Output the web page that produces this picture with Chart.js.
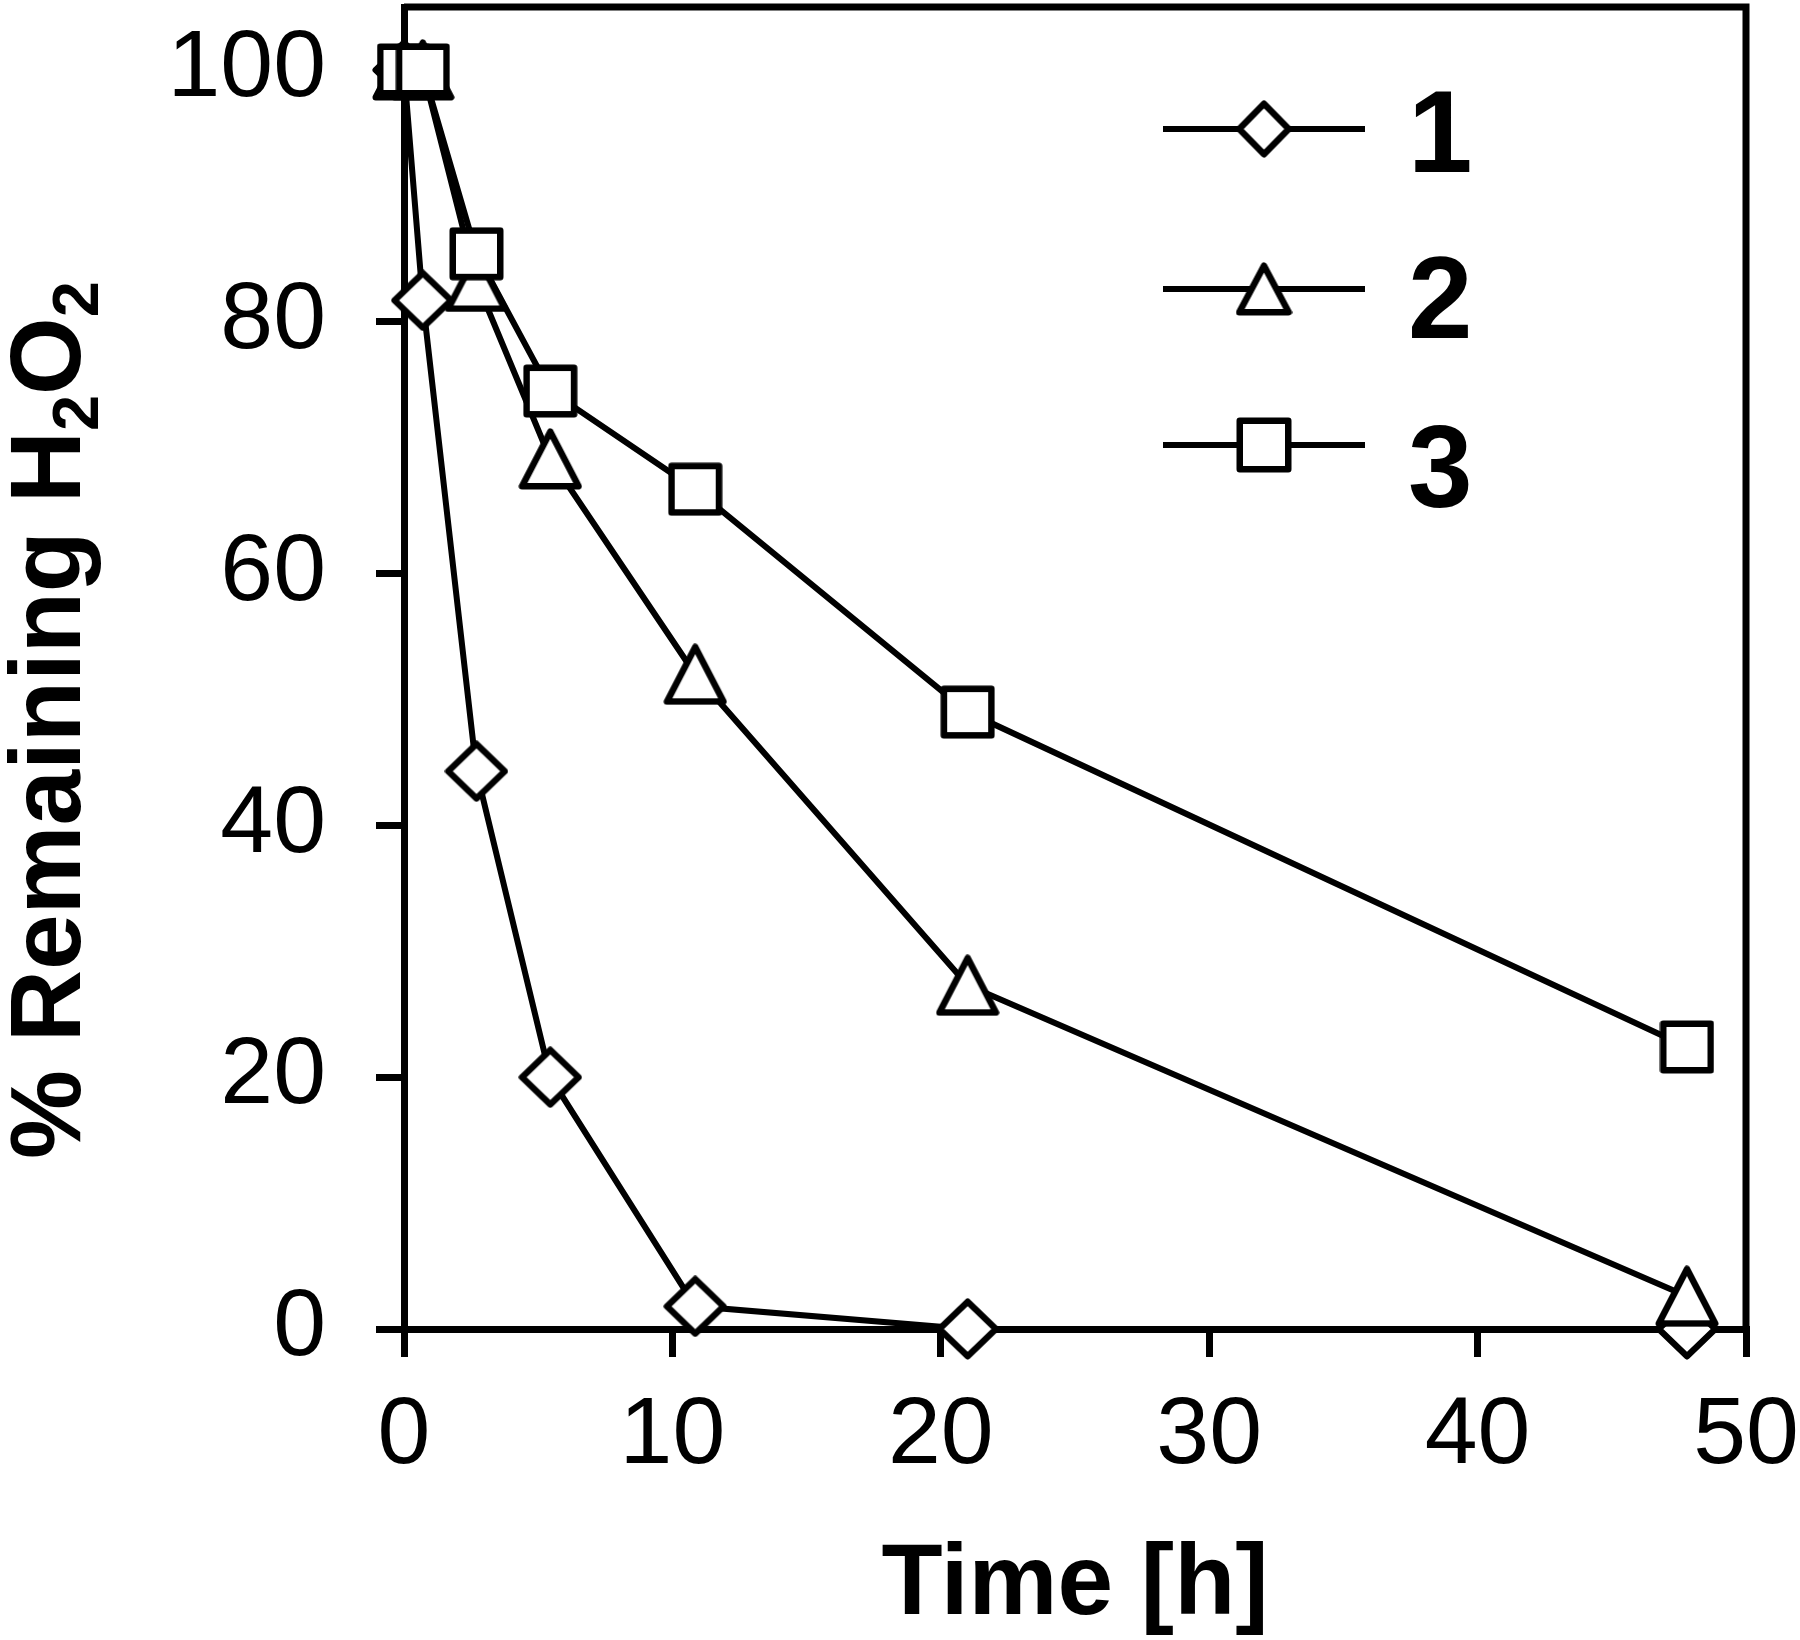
<!DOCTYPE html>
<html>
<head>
<meta charset="utf-8">
<style>
    html, body { margin: 0; padding: 0; background: #fff; }
    #chart { display: block; }
</style>
</head>
<body>
<canvas id="chart" width="1800" height="1640" style="width: 1800px; height: 1640px;"></canvas>
<script src="https://cdn.jsdelivr.net/npm/chart.js"></script>
<script>
    // values
    const times = [0, 0.7, 2.7, 5.45, 10.85, 21, 47.8];
    const series1 = [100, 81.7, 44.3, 20.0, 1.8, 0, 0];
    const series2 = [100, 100, 83.2, 69.1, 52.0, 27.3, 2.6];
    const series3 = [100, 100, 85.4, 74.5, 66.7, 49.0, 22.4];
    const seriesNames = ["1", "2", "3"];
    const xTicks = [0, 10, 20, 30, 40, 50];
    const yTicks = [0, 20, 40, 60, 80, 100];

    const FONT = "'Liberation Sans', Arial, sans-serif";

    // excel-like open markers, drawn once on small canvases
    function makeMarker(shape, w, h, lw) {
        const c = document.createElement("canvas");
        c.width = w;
        c.height = h;
        const g = c.getContext("2d");
        const p = lw / 2 + 0.5;
        g.beginPath();
        if (shape === "diamond") {
            g.moveTo(w / 2, p);
            g.lineTo(w - p, h / 2);
            g.lineTo(w / 2, h - p);
            g.lineTo(p, h / 2);
        } else if (shape === "triangle") {
            g.moveTo(w / 2, p);
            g.lineTo(w - p, h - p);
            g.lineTo(p, h - p);
        } else {
            g.rect(p, p, w - 2 * p, h - 2 * p);
        }
        g.closePath();
        g.fillStyle = "#fff";
        g.fill();
        g.lineWidth = lw;
        g.lineJoin = "round";
        g.strokeStyle = "#000";
        g.stroke();
        return c;
    }

    const markers = [
        makeMarker("diamond", 64, 62, 6.5),
        makeMarker("triangle", 64, 62, 6.5),
        makeMarker("square", 55, 54, 6.5)
    ];
    const legendMarkers = [
        makeMarker("diamond", 57, 58, 6.5),
        makeMarker("triangle", 57, 54, 6.5),
        makeMarker("square", 56, 56, 6.5)
    ];

    function toPoints(values) {
        return times.map((t, i) => ({ x: t, y: values[i] }));
    }

    function noPadding(scale) {
        scale.paddingTop = 0;
        scale.paddingBottom = 0;
        scale.paddingLeft = 0;
        scale.paddingRight = 0;
    }

    const frame = {
        id: "frame",
        afterDatasetsDraw(chart) {
            const { ctx, chartArea: a } = chart;
            ctx.save();
            ctx.strokeStyle = "#000";
            ctx.lineWidth = 7;
            ctx.beginPath();
            ctx.moveTo(a.left, a.top);
            ctx.lineTo(a.right, a.top);
            ctx.lineTo(a.right, a.bottom);
            ctx.stroke();
            ctx.restore();
        }
    };

    // rotated y title with real subscripts
    const yTitle = {
        id: "yTitle",
        afterDraw(chart) {
            const ctx = chart.ctx;
            const big = "bold 100px " + FONT;
            const small = "bold 65px " + FONT;
            const parts = [
                { t: "% Remaining H", f: big, dy: 0 },
                { t: "2", f: small, dy: 18 },
                { t: "O", f: big, dy: 0 },
                { t: "2", f: small, dy: 18 }
            ];
            ctx.save();
            let total = 0;
            parts.forEach(p => {
                ctx.font = p.f;
                p.w = ctx.measureText(p.t).width;
                total += p.w;
            });
            ctx.translate(80, 720);
            ctx.rotate(-Math.PI / 2);
            ctx.fillStyle = "#000";
            ctx.textBaseline = "alphabetic";
            ctx.textAlign = "left";
            let x = -total / 2;
            parts.forEach(p => {
                ctx.font = p.f;
                ctx.fillText(p.t, x, p.dy);
                x += p.w;
            });
            ctx.restore();
        }
    };

    const legendBox = {
        id: "legendBox",
        afterDraw(chart) {
            const ctx = chart.ctx;
            const rows = [129, 289, 445];
            const labelBase = [172, 338, 507];
            ctx.save();
            ctx.strokeStyle = "#000";
            ctx.lineWidth = 6;
            ctx.fillStyle = "#000";
            ctx.font = "bold 116px " + FONT;
            ctx.textBaseline = "alphabetic";
            ctx.textAlign = "left";
            seriesNames.forEach((name, i) => {
                const y = rows[i];
                ctx.beginPath();
                ctx.moveTo(1163, y);
                ctx.lineTo(1365, y);
                ctx.stroke();
                const m = legendMarkers[i];
                ctx.drawImage(m, 1264 - m.width / 2, y - m.height / 2);
                ctx.fillText(name, 1408, labelBase[i]);
            });
            ctx.restore();
        }
    };

    const allSeries = [series1, series2, series3];
    const datasets = allSeries.map((values, i) => ({
        label: seriesNames[i],
        data: toPoints(values),
        showLine: true,
        borderColor: "#000",
        borderWidth: 6,
        backgroundColor: "#fff",
        pointStyle: markers[i],
        pointRadius: 30,
        pointHoverRadius: 30,
        clip: false,
        order: 3 - i,
        tension: 0
    }));

    new Chart(document.getElementById("chart").getContext("2d"), {
        type: "scatter",
        data: { datasets: datasets },
        options: {
            responsive: false,
            devicePixelRatio: 1,
            animation: false,
            events: [],
            layout: {
                autoPadding: false,
                padding: { top: 7, right: 54, bottom: 0, left: 0 }
            },
            plugins: {
                legend: { display: false },
                tooltip: { enabled: false }
            },
            scales: {
                x: {
                    type: "linear",
                    min: 0,
                    max: 50,
                    afterBuildTicks: (scale) => { scale.ticks = xTicks.map(v => ({ value: v })); },
                    afterFit: (scale) => {
                        scale.height = 311;
                        noPadding(scale);
                    },
                    ticks: {
                        color: "#000",
                        font: { family: FONT, size: 95 },
                        padding: 23,
                        maxRotation: 0
                    },
                    grid: {
                        drawOnChartArea: false,
                        color: "#000",
                        lineWidth: 7,
                        tickLength: 28
                    },
                    border: { color: "#000", width: 7 },
                    title: {
                        display: true,
                        text: "Time [h]",
                        color: "#000",
                        font: { family: FONT, size: 100, weight: "bold", lineHeight: 1 },
                        padding: { top: 0, bottom: 4 }
                    }
                },
                y: {
                    type: "linear",
                    min: 0,
                    max: 105,
                    afterBuildTicks: (scale) => { scale.ticks = yTicks.map(v => ({ value: v })); },
                    afterFit: (scale) => {
                        scale.width = 404;
                        noPadding(scale);
                    },
                    ticks: {
                        color: "#000",
                        font: { family: FONT, size: 95 },
                        padding: 50
                    },
                    grid: {
                        drawOnChartArea: false,
                        color: "#000",
                        lineWidth: 7,
                        tickLength: 28
                    },
                    border: { color: "#000", width: 7 },
                    title: { display: false }
                }
            }
        },
        plugins: [frame, yTitle, legendBox]
    });
</script>
</body>
</html>
